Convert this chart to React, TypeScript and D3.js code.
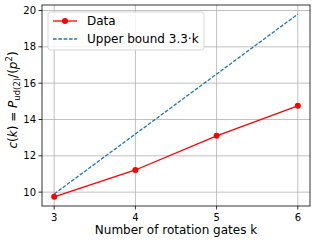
import React from 'react';
import * as d3 from 'd3';

const gates = [3, 4, 5, 6];
const dataValues = [9.74, 11.22, 13.1, 14.75];
const upperBound = [9.9, 13.2, 16.5, 19.8];
const xTicks = [3, 4, 5, 6];
const yTicks = [10, 12, 14, 16, 18, 20];

export default function App() {
  const width = 318;
  const height = 242;
  const left = 42;
  const right = 310;
  const top = 5;
  const bottom = 206;

  const x = d3.scaleLinear().domain([2.85, 6.15]).range([left, right]);
  const y = d3.scaleLinear().domain([9.237, 20.303]).range([bottom, top]);

  const line = d3.line<number>()
    .x((d, i) => x(gates[i]))
    .y(d => y(d));

  const font = 'DejaVu Sans, sans-serif';

  return (
    <svg width={width} height={height} style={{ position: 'absolute', left: 0, top: 0 }} fontFamily={font}>
      <rect width={width} height={height} fill="white" />
      {xTicks.map(t => (
        <g key={'x' + t}>
          <line x1={x(t)} x2={x(t)} y1={top} y2={bottom} stroke="#b0b0b0" strokeWidth={0.8} />
          <line x1={x(t)} x2={x(t)} y1={bottom} y2={bottom + 3.5} stroke="black" strokeWidth={0.8} />
          <text x={x(t)} y={bottom + 15} fontSize={10} textAnchor="middle">{t}</text>
        </g>
      ))}
      {yTicks.map(t => (
        <g key={'y' + t}>
          <line x1={left} x2={right} y1={y(t)} y2={y(t)} stroke="#b0b0b0" strokeWidth={0.8} />
          <line x1={left - 3.5} x2={left} y1={y(t)} y2={y(t)} stroke="black" strokeWidth={0.8} />
          <text x={left - 6} y={y(t)} dy="0.35em" fontSize={10} textAnchor="end">{t}</text>
        </g>
      ))}
      <path d={line(upperBound) || ''} fill="none" stroke="#1f77b4" strokeWidth={1.3} strokeDasharray="3.7,1.6" />
      <path d={line(dataValues) || ''} fill="none" stroke="red" strokeWidth={1.3} />
      {dataValues.map((v, i) => (
        <circle key={i} cx={x(gates[i])} cy={y(v)} r={3} fill="red" />
      ))}
      <rect x={left} y={top} width={right - left} height={bottom - top} fill="none" stroke="black" strokeWidth={0.8} />

      <g>
        <rect x={48} y={12} width={156} height={38} rx={2.5} fill="white" fillOpacity={0.8} stroke="#cccccc" strokeWidth={0.8} />
        <line x1={53} x2={77} y1={21} y2={21} stroke="red" strokeWidth={1.3} />
        <circle cx={65} cy={21} r={3} fill="red" />
        <text x={87} y={21} dy="0.35em" fontSize={12}>Data</text>
        <line x1={53} x2={77} y1={39} y2={39} stroke="#1f77b4" strokeWidth={1.3} strokeDasharray="3.7,1.6" />
        <text x={87} y={39} dy="0.35em" fontSize={12}>Upper bound 3.3·k</text>
      </g>

      <text x={176} y={234} fontSize={12} textAnchor="middle">Number of rotation gates k</text>

      <text transform={`translate(17,100) rotate(-90)`} fontSize={12} textAnchor="middle">
        <tspan fontStyle="italic">c</tspan>(<tspan fontStyle="italic">k</tspan>) = <tspan fontStyle="italic">P</tspan>
        <tspan fontSize={8.5} dy={3}>ud(2)</tspan>
        <tspan dy={-3}>/(</tspan><tspan fontStyle="italic">p</tspan>
        <tspan fontSize={8.5} dy={-5}>2</tspan>
        <tspan dy={5}>)</tspan>
      </text>
    </svg>
  );
}
